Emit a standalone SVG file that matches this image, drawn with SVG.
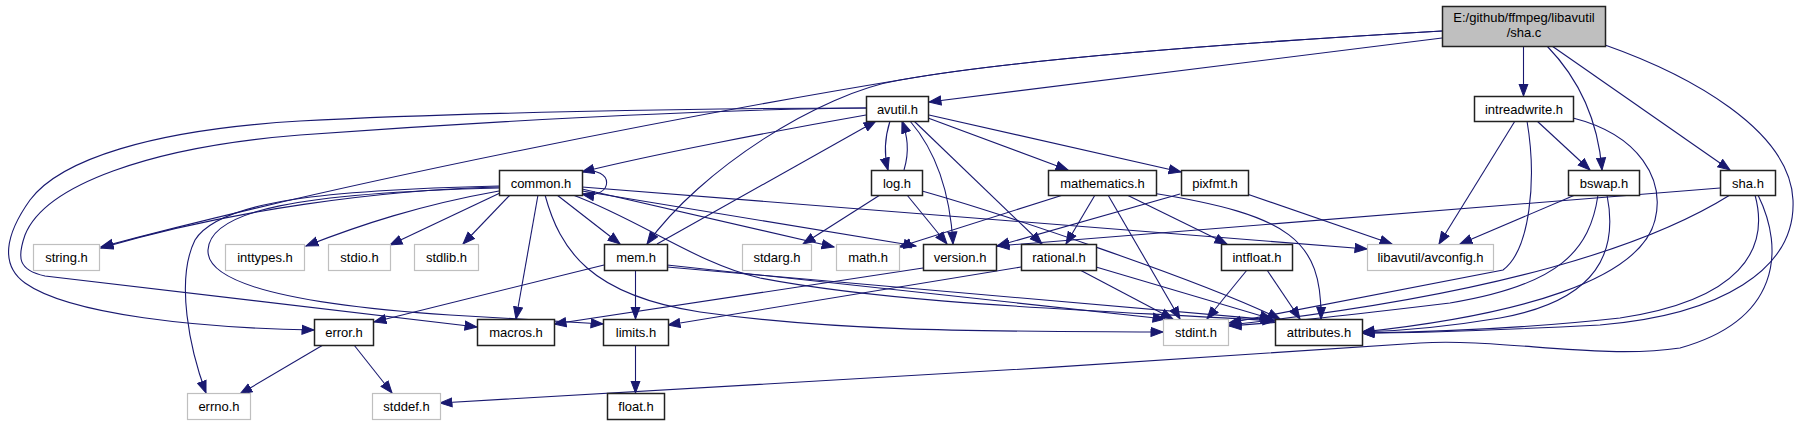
<svg xmlns="http://www.w3.org/2000/svg" width="1800" height="425" viewBox="0 0 1800 425">
<style>
.nd rect{fill:#fff;stroke:#222;stroke-width:1.5}
.ug rect{fill:#fff;stroke:#bfbfbf;stroke-width:1.2}
.root rect{fill:#bfbfbf;stroke:#222;stroke-width:1.5}
text{font-family:"Liberation Sans",Arial,sans-serif;font-size:13px;text-anchor:middle;fill:#000}
#edges path{fill:none;stroke:#191970;stroke-width:1.1;marker-end:url(#arr)}
</style>
<defs>
<marker id="arr" markerUnits="userSpaceOnUse" markerWidth="14" markerHeight="11" refX="12.5" refY="5.5" orient="auto">
<path d="M0.5,1 L12.5,5.5 L0.5,10 Z" fill="#191970" stroke="#191970" stroke-width="1"/>
</marker>
</defs>
<rect width="1800" height="425" fill="#fff"/>
<g id="edges">
<path d="M1523.5,46 L1523.5,96"/>
<path d="M1547,46 C1580,80 1598,120 1602,170"/>
<path d="M1552,46 L1730,170"/>
<path d="M1605,45 C1690,75 1790,130 1793,200 C1796,270 1720,315 1600,325 C1500,330 1420,333 1362,333"/>
<path d="M1442,38 L929,102"/>
<path d="M1442,31 C1200,45 1000,62 900,80 C820,93 700,170 647,244"/>
<path d="M1442,31 C1200,45 1000,62 900,80 C700,113 350,180 101,247"/>
<path d="M866,115 C780,130 650,155 582,172"/>
<path d="M866,108 C700,108 450,113 300,121 C150,130 60,160 30,200 C5,235 0,265 25,283 C70,315 200,328 314,330"/>
<path d="M866,108 C700,109 450,124 300,135 C150,147 45,185 25,235 C17,258 18,270 45,276 L477,327"/>
<path d="M890,121 C884,140 884,155 888,170"/>
<path d="M910,121 C935,150 950,190 953,244"/>
<path d="M914,121 L1042,244"/>
<path d="M928,118 L1068,170"/>
<path d="M929,115 L1181,172"/>
<path d="M904,170 C910,150 907,135 902,121"/>
<path d="M880,195 L803,244"/>
<path d="M907,195 L947,244"/>
<path d="M922,191 C1000,213 1200,280 1280,319"/>
<path d="M581,172 C615,165 615,200 582,194"/>
<path d="M499,187 C380,190 230,210 101,248"/>
<path d="M499,186 C330,190 220,200 195,240 C175,280 190,350 206,393"/>
<path d="M499,188 C300,193 210,210 208,250 C206,285 300,305 450,315 C520,319 570,322 603,324"/>
<path d="M499,191 C420,205 360,225 306,246"/>
<path d="M500,193 L390,245"/>
<path d="M510,195 L463,244"/>
<path d="M538,195 L516,319"/>
<path d="M557,195 L620,244"/>
<path d="M582,189 L834,247"/>
<path d="M582,191 L916,246"/>
<path d="M582,187 L1367,249"/>
<path d="M545,195 C560,250 590,295 700,312 C850,333 1000,331 1163,332"/>
<path d="M573,195 C640,220 700,265 760,278 C900,305 1100,310 1275,321"/>
<path d="M635.5,270 L635.5,319"/>
<path d="M604,265 L374,322"/>
<path d="M657,244 L876,121"/>
<path d="M667,265 L1165,319"/>
<path d="M667,267 L1273,320"/>
<path d="M923,268 L554,324"/>
<path d="M1021,267 L668,325"/>
<path d="M1080,270 L1173,319"/>
<path d="M1096,267 L1272,319"/>
<path d="M1247,270 L1207,319"/>
<path d="M1267,270 L1300,319"/>
<path d="M1063,195 L899,247"/>
<path d="M1095,195 L1066,244"/>
<path d="M1108,195 L1180,319"/>
<path d="M1127,195 L1227,244"/>
<path d="M1152,193 C1290,215 1322,240 1321,319"/>
<path d="M1180,194 L997,246"/>
<path d="M1247,194 L1392,244"/>
<path d="M1515,121 L1439,244"/>
<path d="M1537,121 L1590,170"/>
<path d="M1527,121 C1537,180 1530,250 1503,270 L1229,323"/>
<path d="M1573,118 C1640,135 1665,180 1655,220 C1640,280 1520,315 1362,332"/>
<path d="M1575,195 L1460,244"/>
<path d="M1598,195 C1590,250 1560,285 1450,303 C1350,315 1290,322 1229,326"/>
<path d="M1607,195 C1618,250 1600,300 1500,318 C1440,328 1400,331 1362,332"/>
<path d="M1720,188 L997,246"/>
<path d="M1730,195 C1650,245 1500,295 1229,325"/>
<path d="M1755,195 C1770,250 1740,300 1620,318 C1530,328 1430,332 1362,333"/>
<path d="M1758,195 C1785,250 1780,320 1680,348 C1600,360 1500,338 1420,343 C1100,365 700,390 440,403"/>
<path d="M323,345 L240,394"/>
<path d="M354,345 L392,393"/>
<path d="M635.5,345 L635.5,393"/>
</g>
<g id="n_sha_c" class="root"><rect x="1442.5" y="6.5" width="163" height="40"/><text x="1524" y="22">E:/github/ffmpeg/libavutil</text><text x="1524" y="37">/sha.c</text></g>
<g id="n_intreadwrite" class="nd"><rect x="1474.5" y="96.5" width="99" height="25"/><text x="1524" y="113.5">intreadwrite.h</text></g>
<g id="n_avutil" class="nd"><rect x="866.5" y="96.5" width="62" height="25"/><text x="897.5" y="113.5">avutil.h</text></g>
<g id="n_common" class="nd"><rect x="499.5" y="170.5" width="83" height="25"/><text x="541" y="187.5">common.h</text></g>
<g id="n_log" class="nd"><rect x="871.5" y="170.5" width="51" height="25"/><text x="897" y="187.5">log.h</text></g>
<g id="n_mathematics" class="nd"><rect x="1048.5" y="170.5" width="108" height="25"/><text x="1102.5" y="187.5">mathematics.h</text></g>
<g id="n_pixfmt" class="nd"><rect x="1181.5" y="170.5" width="67" height="25"/><text x="1215" y="187.5">pixfmt.h</text></g>
<g id="n_bswap" class="nd"><rect x="1568.5" y="170.5" width="71" height="25"/><text x="1604" y="187.5">bswap.h</text></g>
<g id="n_sha_h" class="nd"><rect x="1720.5" y="170.5" width="55" height="25"/><text x="1748" y="187.5">sha.h</text></g>
<g id="n_string" class="ug"><rect x="33.5" y="244.5" width="66" height="26"/><text x="66.5" y="262">string.h</text></g>
<g id="n_inttypes" class="ug"><rect x="225.5" y="244.5" width="79" height="26"/><text x="265" y="262">inttypes.h</text></g>
<g id="n_stdio" class="ug"><rect x="328.5" y="244.5" width="62" height="26"/><text x="359.5" y="262">stdio.h</text></g>
<g id="n_stdlib" class="ug"><rect x="414.5" y="244.5" width="64" height="26"/><text x="446.5" y="262">stdlib.h</text></g>
<g id="n_mem" class="nd"><rect x="604.5" y="244.5" width="63" height="26"/><text x="636" y="262">mem.h</text></g>
<g id="n_stdarg" class="ug"><rect x="742.5" y="244.5" width="69" height="26"/><text x="777" y="262">stdarg.h</text></g>
<g id="n_math" class="ug"><rect x="836.5" y="244.5" width="63" height="26"/><text x="868" y="262">math.h</text></g>
<g id="n_version" class="nd"><rect x="923.5" y="244.5" width="73" height="26"/><text x="960" y="262">version.h</text></g>
<g id="n_rational" class="nd"><rect x="1021.5" y="244.5" width="75" height="26"/><text x="1059" y="262">rational.h</text></g>
<g id="n_intfloat" class="nd"><rect x="1221.5" y="244.5" width="71" height="26"/><text x="1257" y="262">intfloat.h</text></g>
<g id="n_avconfig" class="ug"><rect x="1367.5" y="244.5" width="126" height="26"/><text x="1430.5" y="262">libavutil/avconfig.h</text></g>
<g id="n_error" class="nd"><rect x="314.5" y="319.5" width="59" height="26"/><text x="344" y="337">error.h</text></g>
<g id="n_macros" class="nd"><rect x="477.5" y="319.5" width="77" height="26"/><text x="516" y="337">macros.h</text></g>
<g id="n_limits" class="nd"><rect x="603.5" y="319.5" width="65" height="26"/><text x="636" y="337">limits.h</text></g>
<g id="n_stdint" class="ug"><rect x="1163.5" y="319.5" width="65" height="26"/><text x="1196" y="337">stdint.h</text></g>
<g id="n_attributes" class="nd"><rect x="1275.5" y="319.5" width="87" height="26"/><text x="1319" y="337">attributes.h</text></g>
<g id="n_errno" class="ug"><rect x="187.5" y="393.5" width="63" height="26"/><text x="219" y="411">errno.h</text></g>
<g id="n_stddef" class="ug"><rect x="372.5" y="393.5" width="68" height="26"/><text x="406.5" y="411">stddef.h</text></g>
<g id="n_float" class="nd"><rect x="607.5" y="393.5" width="57" height="26"/><text x="636" y="411">float.h</text></g>
</svg>
